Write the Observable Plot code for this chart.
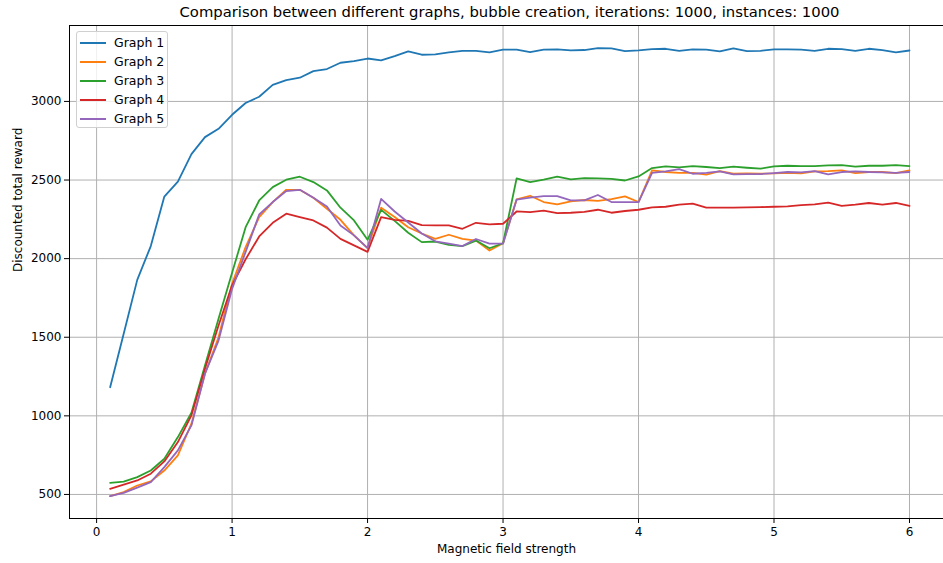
<!DOCTYPE html>
<html>
<head>
<meta charset="utf-8">
<script src="https://cdn.jsdelivr.net/npm/d3@7"></script>
<script src="https://cdn.jsdelivr.net/npm/@observablehq/plot@0.6"></script>
<style>
  html, body { margin: 0; padding: 0; background: #fff; overflow: hidden; width: 943px; height: 563px; }
  #wrap { position: relative; width: 943px; height: 563px; font-family: "DejaVu Sans", sans-serif; }
  #title { position: absolute; left: 69px; width: 881px; top: 3px; text-align: center; font-size: 14.8px; color: #000; white-space: nowrap; }
  #chart { position: absolute; left: 0; top: 23px; }
  #legend { position: absolute; left: 76px; top: 31px; width: 92px; height: 97px; box-sizing: border-box;
            border: 1px solid #d0d0d0; border-radius: 3px; background: rgba(255,255,255,0.8); font-size: 12.5px; }
  .item { position: absolute; left: 3px; height: 19px; display: flex; align-items: center; }
  .item .sw { width: 26px; height: 2px; margin-right: 8px; }
</style>
</head>
<body>
<div id="wrap">
  <div id="title"></div>
  <div id="chart"></div>
  <div id="legend"></div>
</div>
<script>
const titleText = "Comparison between different graphs, bubble creation, iterations: 1000, instances: 1000";
const xLabel = "Magnetic field strength";
const yLabel = "Discounted total reward";
const seriesNames = ["Graph 1", "Graph 2", "Graph 3", "Graph 4", "Graph 5"];
const seriesColors = ["#1f77b4", "#ff7f0e", "#2ca02c", "#d62728", "#9467bd"];
const xTicks = [0, 1, 2, 3, 4, 5, 6];
const yTicks = [500, 1000, 1500, 2000, 2500, 3000];

// magnetic field strength 0.1 .. 6.0
const fieldStrength = [0.1,0.2,0.3,0.4,0.5,0.6,0.7,0.8,0.9,1.0,1.1,1.2,1.3,1.4,1.5,1.6,1.7,1.8,1.9,2.0,
  2.1,2.2,2.3,2.4,2.5,2.6,2.7,2.8,2.9,3.0,3.1,3.2,3.3,3.4,3.5,3.6,3.7,3.8,3.9,4.0,
  4.1,4.2,4.3,4.4,4.5,4.6,4.7,4.8,4.9,5.0,5.1,5.2,5.3,5.4,5.5,5.6,5.7,5.8,5.9,6.0];

const graph1 = [1182,1522,1865,2080,2395,2490,2665,2773,2826,2915,2990,3030,3105,3136,3151,3193,3206,3246,3256,3273,
  3261,3288,3318,3297,3299,3312,3322,3322,3312,3329,3329,3314,3329,3331,3325,3327,3339,3337,3320,3325,
  3333,3335,3322,3331,3329,3318,3337,3320,3322,3331,3331,3329,3322,3335,3333,3322,3335,3327,3312,3324];
const graph2 = [489,515,557,583,652,748,950,1268,1500,1840,2074,2264,2360,2438,2438,2387,2317,2247,2148,2067,
  2324,2265,2200,2160,2126,2152,2126,2115,2052,2098,2377,2400,2360,2345,2364,2373,2368,2379,2396,2360,
  2561,2551,2546,2546,2534,2557,2540,2542,2540,2542,2546,2542,2555,2557,2561,2544,2551,2551,2544,2561];
const graph3 = [574,581,610,652,727,865,1020,1320,1617,1910,2200,2370,2455,2502,2521,2487,2434,2324,2243,2120,
  2310,2240,2165,2105,2109,2088,2079,2115,2066,2098,2510,2487,2502,2521,2504,2512,2510,2508,2497,2523,
  2576,2587,2580,2589,2583,2576,2585,2578,2572,2587,2591,2589,2589,2593,2595,2585,2591,2591,2595,2589];
const graph4 = [536,562,589,632,710,833,1003,1299,1575,1830,1996,2141,2228,2286,2264,2243,2197,2126,2084,2043,
  2264,2247,2240,2213,2211,2211,2190,2228,2218,2222,2300,2296,2305,2290,2292,2298,2311,2292,2303,2311,
  2326,2330,2343,2350,2324,2324,2324,2326,2328,2330,2333,2341,2345,2356,2335,2343,2354,2343,2354,2335];
const graph5 = [489,510,543,578,674,780,939,1268,1479,1808,2043,2281,2360,2430,2438,2387,2332,2211,2148,2067,
  2380,2300,2230,2160,2110,2095,2080,2125,2095,2095,2375,2388,2398,2398,2371,2371,2405,2360,2360,2360,
  2546,2555,2570,2540,2546,2555,2536,2538,2538,2544,2551,2549,2557,2536,2551,2555,2551,2549,2546,2551];

const allSeries = [graph1, graph2, graph3, graph4, graph5];
const rows = [];
allSeries.forEach((vals, si) => {
  vals.forEach((v, i) => rows.push({series: seriesNames[si], x: fieldStrength[i], y: v}));
});

document.getElementById("title").textContent = titleText;

const xDomain = [-0.2, 6.251];
const yDomain = [347, 3483];

const chart = Plot.plot({
  width: 943,
  height: 540,
  marginLeft: 69,
  marginRight: 0,
  marginTop: 2,
  marginBottom: 45,
  style: {fontSize: "12px", fontFamily: "DejaVu Sans, sans-serif", color: "#000", background: "#fff"},
  x: {domain: xDomain, ticks: xTicks, tickFormat: d => String(d), tickSize: 5, tickPadding: 4, label: null},
  y: {domain: yDomain, ticks: yTicks, tickFormat: d => String(d), tickSize: 5, tickPadding: 3, label: null},
  color: {domain: seriesNames, range: seriesColors},
  marks: [
    Plot.ruleX(xTicks, {stroke: "#b0b0b0", strokeWidth: 1}),
    Plot.ruleY(yTicks, {stroke: "#b0b0b0", strokeWidth: 1}),
    Plot.ruleX([xDomain[0]], {stroke: "#000", strokeWidth: 1}),
    Plot.ruleY([yDomain[0]], {stroke: "#000", strokeWidth: 1}),
    Plot.ruleY([yDomain[1]], {stroke: "#000", strokeWidth: 1}),
    Plot.line(rows, {x: "x", y: "y", z: "series", stroke: "series", strokeWidth: 1.8}),
    Plot.text([xLabel], {frameAnchor: "bottom", dy: 34, fontSize: 12, fill: "#000"}),
    Plot.text([yLabel], {frameAnchor: "left", dx: -51, rotate: -90, fontSize: 12, fill: "#000"})
  ]
});
document.getElementById("chart").appendChild(chart);

const legend = document.getElementById("legend");
seriesNames.forEach((name, i) => {
  const item = document.createElement("div");
  item.className = "item";
  item.style.top = (1 + i * 19) + "px";
  const sw = document.createElement("span");
  sw.className = "sw";
  sw.style.background = seriesColors[i];
  const lab = document.createElement("span");
  lab.textContent = name;
  item.appendChild(sw);
  item.appendChild(lab);
  legend.appendChild(item);
});
</script>
</body>
</html>
